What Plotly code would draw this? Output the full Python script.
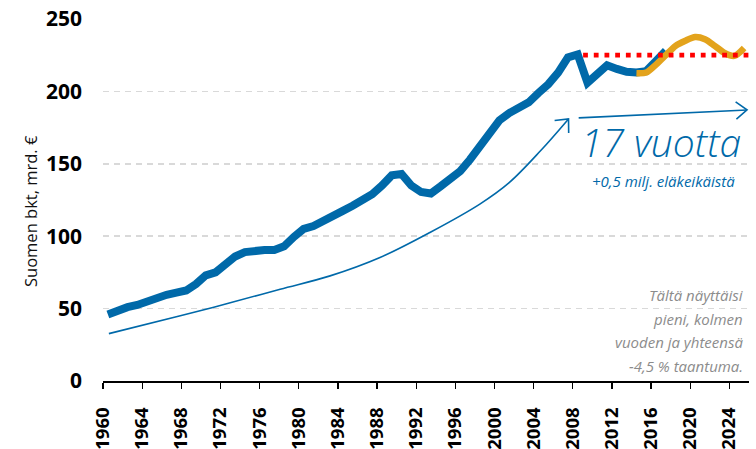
import math
import plotly.graph_objects as go

# ---------------- data ----------------
years = list(range(1960, 2018))
gdp = [46, 49, 51, 52.5, 55, 57.5, 59.5, 61, 62.5, 67,
       73, 75, 80, 86, 89, 90, 90.5, 90.5, 93, 99.5,
       105, 107, 110, 113.5, 117.5, 121, 124.5, 129, 135, 142,
       143, 135, 130.5, 129.5, 134.5, 139.5, 145, 153, 162, 171,
       180, 185, 188.5, 192.5, 199, 205, 213, 223.5, 225.5, 206,
       212, 218, 215.5, 213.5, 213, 214, 221, 228]

fc_years = list(range(2014, 2026))
fc = [212.5, 213, 218.5, 225, 231.5, 235, 237.5, 236, 231.5, 226.5, 224.5, 230]

# thin trend arrow
trend_x = [1960.1, 1967.4, 1972.5, 1977.6, 1982.7, 1987.8, 1992.9, 1998.0, 2001.0, 2004.2, 2007.06]
trend_y = [32.7, 45, 54, 63.4, 72.6, 85.3, 102.6, 122.2, 137, 159, 181]

# "17 years" arrow
arrow_x = [2008.1, 2025.3]
arrow_y = [181.7, 187.2]

peak_year = 2008
peak_value = 225

tick_years = list(range(1960, 2025, 4))
y_ticks = [0, 50, 100, 150, 200, 250]

label_big = "17 vuotta"
label_sub = "+0,5 milj. eläkeikäistä"
note_lines = ["Tältä näyttäisi", "pieni, kolmen", "vuoden ja yhteensä", "-4,5 % taantuma."]
y_title = "Suomen bkt, mrd. €"

# ---------------- style ----------------
BLUE = "#0069A9"
ORANGE = "#E3A31C"
RED = "#FF0000"
GRID = "#D9D9D9"
GRAY = "#8C8C8C"
FONT = "Open Sans"

WIDTH, HEIGHT = 756, 449
L, T, R, B = 103, 19, 7, 68
PW, PH = WIDTH - L - R, HEIGHT - T - B
XR = [1959.5, 2025.5]
YR = [0, 250]
SX = PW / (XR[1] - XR[0])
SY = PH / (YR[1] - YR[0])


def px(x):
    return (x - L) / PW


def py(y):
    return (T + PH - y) / PH


def chevron(tx, ty, fx, fy, arm=14, ang=42):
    dx, dy = (fx - tx) * SX, (fy - ty) * SY
    n = math.hypot(dx, dy)
    dx, dy = dx / n, dy / n
    xs, ys = [], []
    for s in (1, -1):
        a = math.radians(ang * s)
        rx = dx * math.cos(a) - dy * math.sin(a)
        ry = dx * math.sin(a) + dy * math.cos(a)
        xs.append(tx + rx * arm / SX)
        ys.append(ty + ry * arm / SY)
    return [xs[0], tx, xs[1]], [ys[0], ty, ys[1]]


fig = go.Figure()

# thin trend curve
fig.add_trace(go.Scatter(x=trend_x, y=trend_y, mode="lines",
                         line=dict(color=BLUE, width=1.6, shape="spline"),
                         hoverinfo="skip"))
cx, cy = chevron(trend_x[-1], trend_y[-1], trend_x[-2], trend_y[-2])
fig.add_trace(go.Scatter(x=cx, y=cy, mode="lines", line=dict(color=BLUE, width=1.6),
                         hoverinfo="skip"))

# horizontal arrow
fig.add_trace(go.Scatter(x=arrow_x, y=arrow_y, mode="lines", line=dict(color=BLUE, width=1.6),
                         hoverinfo="skip"))
cx, cy = chevron(arrow_x[-1], arrow_y[-1], arrow_x[0], arrow_y[0], arm=14, ang=38)
fig.add_trace(go.Scatter(x=cx, y=cy, mode="lines", line=dict(color=BLUE, width=1.6),
                         hoverinfo="skip"))

# main GDP line
fig.add_trace(go.Scatter(x=years, y=gdp, mode="lines",
                         line=dict(color=BLUE, width=8), hoverinfo="skip"))
# scenario line
fig.add_trace(go.Scatter(x=fc_years, y=fc, mode="lines",
                         line=dict(color=ORANGE, width=6.5, shape="spline", smoothing=0.8),
                         hoverinfo="skip"))

# red dotted pre-crisis peak level
fig.add_shape(type="line", xref="paper", yref="y",
              x0=px(L + (peak_year + 0.55 - XR[0]) * SX), x1=1.008,
              y0=peak_value, y1=peak_value,
              line=dict(color=RED, width=4.8, dash="4.8px,5.9px"), layer="above")

annotations = [
    dict(text=label_big, x=px(743), y=py(141), xref="paper", yref="paper",
         xanchor="right", yanchor="middle", showarrow=False,
         font=dict(family=FONT, size=39, color=BLUE, weight=300, style="italic")),
    dict(text=label_sub, x=px(737), y=py(181), xref="paper", yref="paper",
         xanchor="right", yanchor="middle", showarrow=False,
         font=dict(family=FONT, size=15, color=BLUE, style="italic")),
    dict(text=y_title, x=px(30), y=py(211), xref="paper", yref="paper",
         xanchor="center", yanchor="middle", showarrow=False, textangle=-90,
         font=dict(family=FONT, size=16.5, color="#111111", weight=500)),
]
for i, line in enumerate(note_lines):
    annotations.append(dict(text=line, x=px(745), y=py(295 + i * 23.6), xref="paper", yref="paper",
                            xanchor="right", yanchor="middle", showarrow=False,
                            font=dict(family=FONT, size=15, color=GRAY, style="italic")))

fig.update_layout(
    width=WIDTH, height=HEIGHT,
    margin=dict(l=L, r=R, t=T, b=B, autoexpand=False),
    paper_bgcolor="white", plot_bgcolor="white",
    showlegend=False,
    annotations=annotations,
    xaxis=dict(range=XR, tickvals=[y - 0.5 for y in tick_years],
               ticktext=[str(y) for y in tick_years], tickangle=-90,
               showgrid=False, zeroline=False, automargin=False,
               showline=True, linecolor="black", linewidth=2,
               ticks="outside", ticklen=6, tickwidth=1.3, tickcolor="black",
               ticklabelstandoff=11,
               tickfont=dict(family=FONT, size=18.5, color="black", weight="bold")),
    yaxis=dict(range=YR, tickvals=y_ticks, showgrid=True, gridcolor=GRID, gridwidth=1.5,
               griddash="6px,5px", zeroline=False, showline=False, ticks="", automargin=False,
               ticklabelstandoff=20,
               tickfont=dict(family=FONT, size=21, color="black", weight="bold")),
)

fig.write_html("out.html", config={"displayModeBar": False, "staticPlot": True},
               post_script="document.body.style.margin='0';document.body.style.padding='0';")
